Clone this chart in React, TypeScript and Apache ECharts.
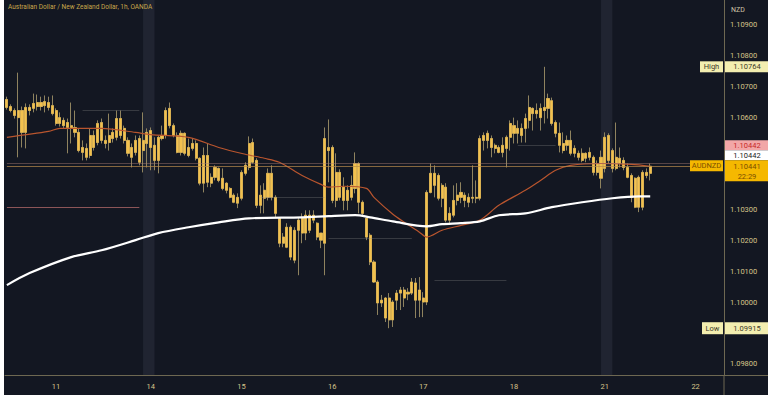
import React, { useEffect, useRef } from 'react';
import * as echarts from 'echarts';

const chartTitle = 'Australian Dollar / New Zealand Dollar, 1h, OANDA';
const quoteCurrency = 'NZD';
const symbolName = 'AUDNZD';
const countdown = '22:29';

// hourly candles (index 0 = first visible bar)
const opens = [
  1.10658, 1.10635, 1.10622, 1.10599, 1.10622, 1.10551, 1.10632, 1.10629, 1.10635, 1.10648,
  1.10638, 1.10648, 1.10638, 1.10622, 1.10580, 1.10590, 1.10583, 1.10573, 1.10567, 1.10551,
  1.10502, 1.10499, 1.10476, 1.10541, 1.10518, 1.10583, 1.10525, 1.10518, 1.10531, 1.10535,
  1.10596, 1.10564, 1.10525, 1.10502, 1.10486, 1.10531, 1.10492, 1.10515, 1.10557, 1.10509,
  1.10460, 1.10531, 1.10541, 1.10629, 1.10573, 1.10541, 1.10486, 1.10548, 1.10476, 1.10499,
  1.10515, 1.10467, 1.10386, 1.10476, 1.10386, 1.10405, 1.10434, 1.10402, 1.10386, 1.10369,
  1.10347, 1.10340, 1.10337, 1.10418, 1.10437, 1.10518, 1.10460, 1.10314, 1.10337, 1.10340,
  1.10418, 1.10340, 1.10272, 1.10191, 1.10243, 1.10243, 1.10136, 1.10233, 1.10275, 1.10224,
  1.10282, 1.10266, 1.10256, 1.10224, 1.10191, 1.10502, 1.10502, 1.10330, 1.10421, 1.10373,
  1.10330, 1.10340, 1.10369, 1.10450, 1.10324, 1.10272, 1.10217, 1.10130, 1.10065, 1.09997,
  1.10013, 1.09942, 1.10000, 1.10006, 1.10029, 1.10039, 1.10026, 1.10029, 1.10062, 1.10006,
  1.10013, 1.10000, 1.10356, 1.10418, 1.10411, 1.10337, 1.10373, 1.10266, 1.10282, 1.10330,
  1.10340, 1.10347, 1.10340, 1.10337, 1.10340, 1.10337, 1.10541, 1.10525, 1.10531, 1.10509,
  1.10502, 1.10486, 1.10499, 1.10535, 1.10573, 1.10548, 1.10564, 1.10564, 1.10590, 1.10629,
  1.10612, 1.10629, 1.10622, 1.10629, 1.10654, 1.10583, 1.10548, 1.10515, 1.10509, 1.10525,
  1.10483, 1.10483, 1.10460, 1.10483, 1.10470, 1.10470, 1.10421, 1.10470, 1.10434, 1.10541,
  1.10492, 1.10434, 1.10450, 1.10460, 1.10437, 1.10411, 1.10308, 1.10405, 1.10308, 1.10421,
  1.10418,
];
const closes = [
  1.10632, 1.10622, 1.10606, 1.10622, 1.10551, 1.10632, 1.10622, 1.10645, 1.10648, 1.10635,
  1.10651, 1.10632, 1.10612, 1.10580, 1.10599, 1.10573, 1.10567, 1.10564, 1.10551, 1.10492,
  1.10486, 1.10470, 1.10541, 1.10502, 1.10580, 1.10525, 1.10515, 1.10541, 1.10551, 1.10596,
  1.10541, 1.10525, 1.10483, 1.10470, 1.10525, 1.10454, 1.10525, 1.10551, 1.10502, 1.10460,
  1.10535, 1.10541, 1.10622, 1.10573, 1.10541, 1.10486, 1.10548, 1.10483, 1.10502, 1.10515,
  1.10467, 1.10386, 1.10476, 1.10389, 1.10405, 1.10437, 1.10395, 1.10369, 1.10363, 1.10340,
  1.10324, 1.10321, 1.10421, 1.10444, 1.10515, 1.10454, 1.10314, 1.10347, 1.10363, 1.10418,
  1.10340, 1.10288, 1.10191, 1.10211, 1.10178, 1.10146, 1.10233, 1.10266, 1.10224, 1.10282,
  1.10233, 1.10282, 1.10211, 1.10201, 1.10531, 1.10492, 1.10330, 1.10421, 1.10340, 1.10330,
  1.10363, 1.10379, 1.10450, 1.10324, 1.10288, 1.10211, 1.10130, 1.10065, 1.09997, 1.10006,
  1.09948, 1.10013, 1.09942, 1.10029, 1.10039, 1.10013, 1.10032, 1.10065, 1.10006, 1.10039,
  1.10000, 1.10356, 1.10418, 1.10379, 1.10337, 1.10379, 1.10266, 1.10288, 1.10330, 1.10347,
  1.10356, 1.10330, 1.10324, 1.10340, 1.10337, 1.10531, 1.10525, 1.10548, 1.10502, 1.10499,
  1.10486, 1.10509, 1.10535, 1.10580, 1.10548, 1.10564, 1.10541, 1.10596, 1.10632, 1.10612,
  1.10622, 1.10599, 1.10632, 1.10661, 1.10580, 1.10548, 1.10509, 1.10492, 1.10525, 1.10483,
  1.10499, 1.10470, 1.10483, 1.10467, 1.10486, 1.10421, 1.10450, 1.10402, 1.10535, 1.10460,
  1.10434, 1.10470, 1.10467, 1.10437, 1.10405, 1.10340, 1.10402, 1.10308, 1.10421, 1.10411,
  1.10441,
];
const lows = [
  1.10625, 1.10616, 1.10596, 1.10470, 1.10502, 1.10499, 1.10606, 1.10616, 1.10622, 1.10622,
  1.10616, 1.10622, 1.10606, 1.10573, 1.10570, 1.10564, 1.10483, 1.10515, 1.10535, 1.10486,
  1.10460, 1.10460, 1.10467, 1.10492, 1.10509, 1.10515, 1.10499, 1.10492, 1.10518, 1.10525,
  1.10531, 1.10515, 1.10473, 1.10437, 1.10476, 1.10444, 1.10421, 1.10437, 1.10428, 1.10428,
  1.10418, 1.10525, 1.10531, 1.10564, 1.10535, 1.10483, 1.10476, 1.10476, 1.10470, 1.10492,
  1.10460, 1.10379, 1.10356, 1.10373, 1.10373, 1.10395, 1.10389, 1.10363, 1.10353, 1.10337,
  1.10321, 1.10305, 1.10330, 1.10411, 1.10428, 1.10450, 1.10305, 1.10288, 1.10288, 1.10330,
  1.10330, 1.10275, 1.10178, 1.10178, 1.10175, 1.10136, 1.10126, 1.10087, 1.10191, 1.10201,
  1.10224, 1.10256, 1.10201, 1.10175, 1.10087, 1.10389, 1.10321, 1.10308, 1.10330, 1.10298,
  1.10298, 1.10330, 1.10353, 1.10288, 1.10282, 1.10201, 1.10120, 1.10062, 1.09958, 1.09984,
  1.09935, 1.09915, 1.09919, 1.09974, 1.09974, 1.09984, 1.10006, 1.10023, 1.09948, 1.09951,
  1.09951, 1.09990, 1.10353, 1.10340, 1.10330, 1.10308, 1.10259, 1.10256, 1.10275, 1.10314,
  1.10321, 1.10308, 1.10308, 1.10321, 1.10321, 1.10330, 1.10492, 1.10499, 1.10470, 1.10483,
  1.10483, 1.10470, 1.10437, 1.10492, 1.10515, 1.10515, 1.10518, 1.10518, 1.10564, 1.10557,
  1.10596, 1.10557, 1.10580, 1.10596, 1.10573, 1.10535, 1.10486, 1.10483, 1.10492, 1.10476,
  1.10470, 1.10460, 1.10454, 1.10454, 1.10460, 1.10411, 1.10411, 1.10369, 1.10421, 1.10450,
  1.10421, 1.10428, 1.10437, 1.10428, 1.10402, 1.10324, 1.10305, 1.10292, 1.10298, 1.10402,
  1.10395,
];
const highs = [
  1.10667, 1.10642, 1.10629, 1.10745, 1.10635, 1.10645, 1.10642, 1.10677, 1.10674, 1.10667,
  1.10671, 1.10667, 1.10671, 1.10629, 1.10616, 1.10599, 1.10596, 1.10648, 1.10622, 1.10564,
  1.10525, 1.10515, 1.10564, 1.10557, 1.10590, 1.10596, 1.10541, 1.10612, 1.10564, 1.10622,
  1.10622, 1.10573, 1.10535, 1.10515, 1.10541, 1.10541, 1.10616, 1.10564, 1.10567, 1.10535,
  1.10541, 1.10573, 1.10632, 1.10648, 1.10580, 1.10551, 1.10557, 1.10551, 1.10531, 1.10531,
  1.10525, 1.10470, 1.10502, 1.10515, 1.10418, 1.10444, 1.10437, 1.10434, 1.10389, 1.10373,
  1.10353, 1.10353, 1.10428, 1.10454, 1.10538, 1.10531, 1.10467, 1.10379, 1.10386, 1.10434,
  1.10444, 1.10347, 1.10275, 1.10224, 1.10256, 1.10249, 1.10243, 1.10275, 1.10288, 1.10298,
  1.10298, 1.10298, 1.10259, 1.10224, 1.10567, 1.10593, 1.10509, 1.10483, 1.10431, 1.10405,
  1.10379, 1.10411, 1.10486, 1.10454, 1.10330, 1.10275, 1.10224, 1.10136, 1.10071, 1.10023,
  1.10016, 1.10029, 1.10006, 1.10039, 1.10049, 1.10049, 1.10045, 1.10078, 1.10078, 1.10081,
  1.10032, 1.10363, 1.10450, 1.10444, 1.10418, 1.10386, 1.10386, 1.10308, 1.10379, 1.10386,
  1.10389, 1.10356, 1.10353, 1.10444, 1.10395, 1.10541, 1.10551, 1.10557, 1.10541, 1.10515,
  1.10509, 1.10535, 1.10541, 1.10590, 1.10599, 1.10590, 1.10580, 1.10612, 1.10671, 1.10632,
  1.10645, 1.10645, 1.10764, 1.10677, 1.10664, 1.10590, 1.10583, 1.10551, 1.10541, 1.10557,
  1.10509, 1.10492, 1.10499, 1.10486, 1.10502, 1.10476, 1.10460, 1.10492, 1.10551, 1.10548,
  1.10499, 1.10583, 1.10502, 1.10470, 1.10450, 1.10418, 1.10405, 1.10411, 1.10428, 1.10434,
  1.10450,
];

// moving averages read at sample bars
const slowMaBars = [0, 6, 17, 25, 34, 40, 48, 56, 64, 78, 85, 92, 96, 102, 111, 115, 120, 125, 130, 137, 144, 152, 160, 167, 170];
const slowMaValues = [
  1.10055, 1.10094, 1.10146, 1.10168, 1.10201, 1.10224, 1.10243, 1.10259, 1.10272, 1.10275,
  1.10279, 1.10282, 1.10275, 1.10262, 1.10246, 1.10253, 1.10256, 1.10262, 1.10282, 1.10288,
  1.10308, 1.10324, 1.10337, 1.10343, 1.10343,
];
const fastMaBars = [0, 11, 14, 25, 34, 38, 48, 56, 63, 68, 72, 78, 83, 85, 89, 95, 97, 102, 105, 109, 111, 115, 120, 125, 130, 137, 141, 145, 149, 157, 165, 170];
const fastMaValues = [
  1.10535, 1.10554, 1.10564, 1.10564, 1.10551, 1.10544, 1.10535, 1.10502, 1.10480, 1.10467,
  1.10454, 1.10411, 1.10382, 1.10373, 1.10376, 1.10369, 1.10340, 1.10285, 1.10259, 1.10227,
  1.10211, 1.10233, 1.10249, 1.10266, 1.10314, 1.10363, 1.10395, 1.10428, 1.10444, 1.10450,
  1.10447, 1.10441,
];

// x axis day labels
const dayBars = [13, 38, 62, 86, 110, 134, 158, 182];
const dayLabels = ['11', '14', '15', '16', '17', '18', '21', '22'];
const totalSlots = 190;

// y axis labels shown
const priceTicks = [1.098, 1.1, 1.101, 1.102, 1.103, 1.106, 1.107, 1.108, 1.109];

// price tags
const highPrice = 1.10764;
const lowPrice = 1.09915;
const lastPrice = 1.10441;
const prevPrice = 1.10442;
const refLinePrice = 1.10452;

// horizontal drawn levels [price, fromBar, toBar]
const levelSegments: [number, number, number][] = [
  [1.10622, 20, 35],
  [1.1034, 67, 84],
  [1.10207, 85, 107],
  [1.10071, 113, 132],
  [1.10509, 135, 145],
];
const mauveLevel: [number, number, number] = [1.10308, 0, 35];

// shaded session bands [fromBar, toBar]
const bands: [number, number][] = [
  [36, 39],
  [157, 160],
];

export default function App() {
  const ref = useRef<HTMLDivElement>(null);

  useEffect(() => {
    const chart = echarts.init(ref.current as HTMLDivElement, null, { renderer: 'svg' });
    const cats = Array.from({ length: totalSlots }, (_, i) => String(i));
    const labelAt: Record<number, string> = {};
    dayBars.forEach((b, k) => (labelAt[b] = dayLabels[k]));

    const wickData = opens.map((o, i) => [o, closes[i], lows[i], highs[i]]);
    const bodyData = opens.map((o, i) => [o, closes[i], Math.min(o, closes[i]), Math.max(o, closes[i])]);
    const slowLine: (number | null)[] = opens.map(() => null);
    slowMaBars.forEach((b, k) => (slowLine[b] = slowMaValues[k]));
    const fastLine: (number | null)[] = opens.map(() => null);
    fastMaBars.forEach((b, k) => (fastLine[b] = fastMaValues[k]));

    const axisColor = '#6e6852';
    const labelColor = '#d6c48a';
    const lastSlot = String(totalSlots - 1);

    const seg = (p: number, a: string, b: string) => [{ coord: [a, p] }, { coord: [b, p] }];

    const option: any = {
      animation: false,
      backgroundColor: '#131722',
      grid: { left: 1, right: 44, top: 0, bottom: 20 },
      xAxis: {
        type: 'category',
        data: cats,
        boundaryGap: true,
        axisLine: { show: true, lineStyle: { color: axisColor, width: 1 } },
        axisTick: { show: false },
        splitLine: { show: false },
        axisLabel: {
          interval: (i: number) => labelAt[i] !== undefined,
          formatter: (_v: string, i: number) => labelAt[i] ?? '',
          color: labelColor,
          fontSize: 7.5,
          fontFamily: 'Roboto',
          margin: 7,
        },
      },
      yAxis: {
        type: 'value',
        position: 'right',
        min: 1.09763,
        max: 1.10981,
        scale: true,
        splitLine: { show: false },
        axisTick: { show: false },
        axisLine: { show: true, lineStyle: { color: axisColor, width: 1 } },
        axisLabel: {
          customValues: priceTicks,
          formatter: (v: number) => v.toFixed(5),
          color: labelColor,
          fontSize: 7.5,
          fontFamily: 'Roboto',
          margin: 6,
        },
      },
      series: [
        {
          type: 'candlestick',
          name: 'wicks',
          data: wickData,
          barWidth: 2.6,
          itemStyle: {
            color: '#8f835f',
            color0: '#8f835f',
            borderColor: '#8f835f',
            borderColor0: '#8f835f',
            borderWidth: 1,
          },
          markArea: {
            silent: true,
            itemStyle: { color: 'rgba(150,160,190,0.10)' },
            data: bands.map(([a, b]) => [{ xAxis: String(a) }, { xAxis: String(b) }]),
          },
          markLine: {
            silent: true,
            symbol: 'none',
            label: { show: false },
            lineStyle: { color: 'rgba(138,138,138,0.3)', width: 1, type: 'solid' },
            data: levelSegments.map(([p, a, b]) => seg(p, String(a), String(b))),
          },
        },
        {
          type: 'candlestick',
          name: 'bodies',
          data: bodyData,
          barWidth: 2.6,
          itemStyle: {
            color: '#f2c14e',
            color0: '#f2c14e',
            borderColor: '#f2c14e',
            borderColor0: '#f2c14e',
            borderWidth: 0.5,
          },
          markLine: {
            silent: true,
            symbol: 'none',
            label: { show: false },
            lineStyle: { color: '#8c5558', width: 1, type: 'solid' },
            data: [seg(mauveLevel[0], String(mauveLevel[1]), String(mauveLevel[2]))],
          },
        },
        {
          type: 'line',
          name: 'MA fast',
          data: fastLine,
          connectNulls: true,
          smooth: 0.3,
          symbol: 'none',
          lineStyle: { color: '#b9552e', width: 1.2 },
          z: 4,
          markLine: {
            silent: true,
            symbol: 'none',
            label: { show: false },
            lineStyle: { color: 'rgba(184,138,74,0.7)', width: 1, type: 'solid' },
            data: [seg(lastPrice, '0', lastSlot)],
          },
        },
        {
          type: 'line',
          name: 'MA slow',
          data: slowLine,
          connectNulls: true,
          smooth: 0.3,
          symbol: 'none',
          lineStyle: { color: '#ffffff', width: 2.2 },
          z: 5,
          markLine: {
            silent: true,
            symbol: 'none',
            label: { show: false },
            lineStyle: { color: 'rgba(168,124,116,0.45)', width: 1, type: 'solid' },
            data: [seg(refLinePrice, '0', lastSlot)],
          },
        },
      ],
    };
    chart.setOption(option);

    const yOf = (p: number) => chart.convertToPixel({ yAxisIndex: 0 }, p) as number;
    const axisX = 720;
    const tagW = 44;
    const txt = (text: string, x: number, y: number, fill: string, size = 7.5, align = 'center') => ({
      type: 'text',
      z: 101,
      style: { text, x, y, fill, fontSize: size, fontFamily: 'Roboto', align, verticalAlign: 'middle' },
    });
    const rect = (x: number, y: number, w: number, h: number, fill: string) => ({
      type: 'rect',
      z: 100,
      shape: { x, y, width: w, height: h },
      style: { fill },
    });

    const yH = yOf(highPrice);
    const yL = yOf(lowPrice);
    const yC = yOf(lastPrice);
    const pale = '#f3eeb0';
    const dark = '#3d3a2a';
    const orange = '#f5b800';
    const orangeText = '#7a4e00';

    const graphic: any[] = [
      txt(chartTitle, 4, 7, '#c9a74b', 6.5, 'left'),
      txt(quoteCurrency, axisX + 7, 10, '#cfc6a8', 7, 'left'),
      { type: 'line', z: 50, shape: { x1: axisX, y1: 375, x2: axisX, y2: 395 }, style: { stroke: axisColor, lineWidth: 1 } },
      { type: 'line', z: 50, shape: { x1: axisX, y1: 375.5, x2: 764, y2: 375.5 }, style: { stroke: axisColor, lineWidth: 1 } },
      // High
      rect(axisX - 24, yH - 5.5, 23, 11, pale),
      txt('High', axisX - 12.5, yH, dark),
      rect(axisX + 1, yH - 5.5, tagW - 1, 11, pale),
      txt(highPrice.toFixed(5), axisX + 1 + tagW / 2, yH, dark),
      // stacked last-price tags
      rect(axisX + 1, yC - 26, tagW - 1, 10, '#f2a7a7'),
      txt(prevPrice.toFixed(5), axisX + 1 + tagW / 2, yC - 21, '#c62828'),
      rect(axisX + 1, yC - 16, tagW - 1, 10, '#ffffff'),
      txt(prevPrice.toFixed(5), axisX + 1 + tagW / 2, yC - 11, '#222222'),
      rect(axisX + 1, yC - 6, tagW - 1, 21, orange),
      txt(lastPrice.toFixed(5), axisX + 1 + tagW / 2, yC, orangeText),
      txt(countdown, axisX + 1 + tagW / 2, yC + 10, orangeText),
      rect(axisX - 34, yC - 6, 33, 11, orange),
      txt(symbolName, axisX - 17.5, yC - 0.5, orangeText),
      // Low
      rect(axisX - 22, yL - 6, 21, 12, pale),
      txt('Low', axisX - 11.5, yL, dark),
      rect(axisX + 1, yL - 6, tagW - 1, 12, pale),
      txt(lowPrice.toFixed(5), axisX + 1 + tagW / 2, yL, dark),
    ];
    chart.setOption({ graphic });

    return () => chart.dispose();
  }, []);

  return (
    <div style={{ position: 'fixed', left: 0, top: 0, width: 768, height: 400, background: '#ffffff' }}>
      <div
        ref={ref}
        style={{ position: 'absolute', left: 4, top: 0, width: 764, height: 395, background: '#131722' }}
      />
    </div>
  );
}
